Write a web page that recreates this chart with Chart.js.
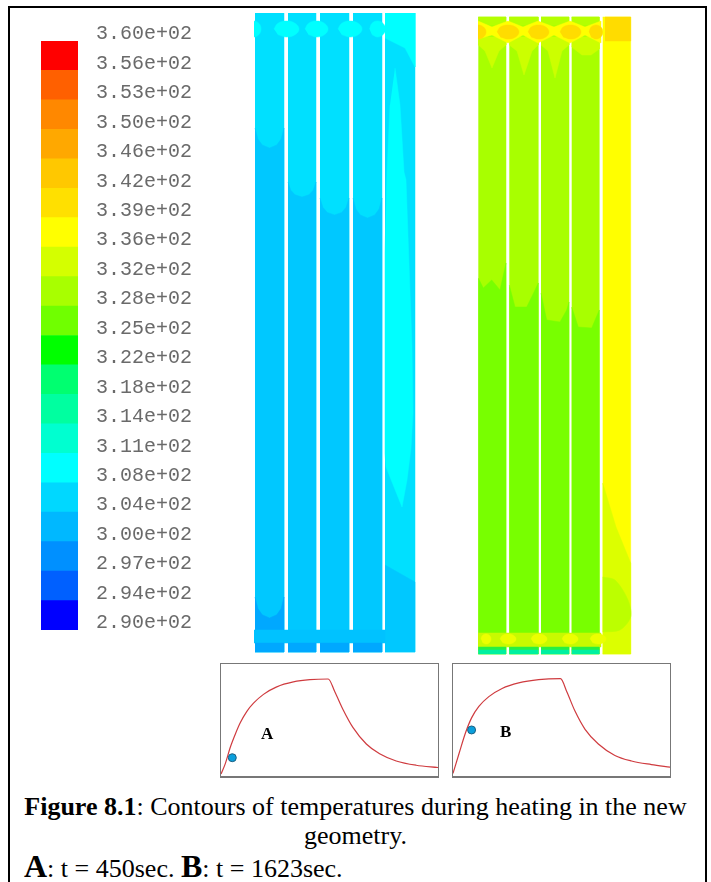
<!DOCTYPE html>
<html>
<head>
<meta charset="utf-8">
<title>Figure 8.1</title>
<script src="https://cdn.jsdelivr.net/npm/chart.js@4/dist/chart.umd.min.js"></script>
<style>
body { margin: 0; background: #fff; width: 711px; height: 882px; overflow: hidden; position: relative; }
canvas { position: absolute; }
#frame { position: absolute; left: 8px; top: 6px; width: 695px; height: 900px; border: 2px solid #000; }
.contour { filter: blur(0.6px); }
.inset { position: absolute; border: 1px solid #777; border-bottom: 2px solid #777; box-sizing: border-box; }
.tag { position: absolute; font: bold 17px "Liberation Serif"; color: #000; }
.cap { position: absolute; font: 26px/29px "Liberation Serif"; color: #000; white-space: nowrap; }
.cap b.big { font-size: 32px; }
</style>
</head>
<body>
<div id="frame"></div>
<canvas id="legend" width="240" height="660" style="left:0;top:0"></canvas>
<canvas id="panelA" class="contour" width="162" height="640" style="left:254px;top:13px"></canvas>
<canvas id="panelB" class="contour" width="154" height="640" style="left:478px;top:15px"></canvas>
<div class="inset" style="left:220px;top:663px;width:219px;height:115px"><canvas id="curveA" width="217" height="112"></canvas></div>
<div class="inset" style="left:452px;top:663px;width:219px;height:115px"><canvas id="curveB" width="217" height="112"></canvas></div>
<div class="tag" style="left:261px;top:724px">A</div>
<div class="tag" style="left:500px;top:722px">B</div>
<div class="cap" style="left:0;width:711px;text-align:center;top:792px;line-height:29px"><b>Figure 8.1</b>: Contours of temperatures during heating in the new<br>geometry.</div>
<div class="cap" style="left:24px;top:852px"><b class="big">A</b>: t = 450sec. <b class="big">B</b>: t = 1623sec.</div>
<script>
// colour bar, top to bottom
const tempLabels = ['3.60e+02', '3.56e+02', '3.53e+02', '3.50e+02', '3.46e+02', '3.42e+02', '3.39e+02',
     '3.36e+02', '3.32e+02', '3.28e+02', '3.25e+02', '3.22e+02', '3.18e+02', '3.14e+02', '3.11e+02',
     '3.08e+02', '3.04e+02', '3.00e+02', '2.97e+02', '2.94e+02', '2.90e+02'];
const bandColors = ['#ff0000', '#ff6000', '#ff8800', '#ffa800', '#ffc800', '#ffe000', '#ffff00', '#d4ff00',
     '#a8ff00', '#70ff00', '#00ff00', '#00ff70', '#00ffa0', '#00ffd0', '#00ffff', '#00d8ff',
     '#00b8ff', '#0090ff', '#0060ff', '#0000ff'];

// heating curves (time, temperature in plot units)
const timeA = [0, 13, 28, 43, 58, 78, 98, 128, 168, 218, 268, 323, 343, 368, 398, 438, 478, 528, 588, 654];
const tempA = [6, 38, 88, 128, 163, 198, 223, 250, 273, 288, 295, 297, 258, 203, 148, 98, 68, 46, 33, 26];
const markerA = [{ x: 34, y: 56 }];
const timeB = [0, 18, 38, 56, 78, 108, 148, 198, 258, 324, 343, 368, 398, 438, 488, 538, 598, 655];
const tempB = [8, 68, 133, 178, 213, 243, 268, 285, 295, 298, 258, 198, 143, 98, 63, 46, 35, 27];
const markerB = [{ x: 56, y: 141 }];

// contour panel A, channel walls and contour heights
const wallsA = [[1, 30], [34, 62], [66, 95], [99, 128], [131, 161]];
const lobeX = [1, 0.9, 0.75, 0.5, 0.25, 0.1, 0];
const lobeDepth = [0, 0.55, 0.85, 1, 0.85, 0.55, 0];
const lobeEdgeA = [525, 471, 455, 455];
const lobeBottomA = [505, 456, 438, 435];
const holesA = [[0, 7], [32.5, 12.5], [62.5, 11.5], [96, 12], [123.5, 8]];
const plumeA = [[141, 585], [146, 548], [150, 481], [152, 473], [158, 306], [159, 240], [157, 205], [153, 173],
     [148, 146], [132, 186], [131, 200], [131, 400], [133, 481], [136, 548]];
const capA = [[131, 640], [161, 640], [161, 586], [151, 605], [131, 615]];
const lowerA = [[131, 1], [161, 1], [161, 71], [131, 88]];

// contour panel B
const wallsB = [[0.3, 28], [31.3, 60.3], [63, 91], [93.7, 121.3], [124.7, 152.7]];
const frontB = [
     [[0.3, 377], [5.3, 367], [13.7, 375], [22, 365], [28, 392]],
     [[31.3, 370], [37, 348], [48.7, 348], [57, 365], [60.3, 372]],
     [[63, 362], [68.7, 335], [82, 333], [88.7, 345], [91, 353]],
     [[93.7, 348], [100.3, 328], [113.7, 327], [121.3, 345]]
];
const spikesB = [
     [[0.3, 618], [28, 618], [28, 610], [21, 604], [14, 587], [7, 604], [0.3, 610]],
     [[31.3, 618], [60.3, 618], [60.3, 610], [54, 604], [46, 580], [39, 604], [31.3, 610]],
     [[63, 618], [91, 618], [91, 610], [84, 604], [77, 577], [70, 604], [63, 610]],
     [[93.7, 618], [121.3, 618], [121.3, 606], [113, 600], [104, 600], [93.7, 608]]
];
const starB = [[0, 616], [14, 620], [30, 612], [45, 620], [60, 612], [76, 620], [92, 612], [107, 620], [123, 612],
     [123, 634], [107, 628], [92, 634], [76, 628], [60, 634], [45, 628], [30, 634], [14, 628], [0, 634]];
const holesB = [[0, 8], [30, 11], [60.5, 10.5], [92.5, 10.5], [118, 7]];
const jointsB = [[30, 8], [61, 8], [92, 8], [120, 8], [8, 5]];
const fadeB = [[124.7, 1], [152.7, 1], [152.7, 92], [138, 128], [124.7, 172]];
const innerB = [[124.7, 78], [137, 75], [150, 55], [152.7, 38], [142, 25], [124.7, 23]];

const ellipseShape = [[-1, 0], [-0.7, 0.7], [0, 1], [0.7, 0.7], [1, 0], [0.7, -0.7], [0, -1], [-0.7, -0.7]];

function rect(x0, x1, y0, y1) {
     return [[x0, y0], [x1, y0], [x1, y1], [x0, y1]];
}
function ellipse(cx, rx, cy, ry) {
     return ellipseShape.map(p => [cx + p[0] * rx, cy + p[1] * ry]);
}
// channel block whose top edge dips in the middle
function lobed(wall, bottom, edge, depth) {
     let pts = [[wall[0], bottom], [wall[1], bottom]];
     lobeX.forEach(function (f, i) {
          pts.push([wall[0] + (wall[1] - wall[0]) * f, edge - depth * lobeDepth[i]]);
     });
     return pts;
}

function shape(pts, color, tension) {
     return {
          data: pts.map(p => ({ x: p[0], y: p[1] })),
          showLine: true,
          fill: 'shape',
          backgroundColor: color,
          borderColor: color,
          borderWidth: 0.5,
          pointRadius: 0,
          tension: tension || 0
     };
}

function contourChart(id, maxX, layers) {
     // chart.js paints the first dataset last
     new Chart(id, {
          type: 'scatter',
          data: { datasets: layers.slice().reverse() },
          options: {
               responsive: false,
               animation: false,
               layout: { padding: 0, autoPadding: false },
               plugins: { legend: { display: false }, tooltip: { enabled: false } },
               scales: {
                    x: { type: 'linear', display: false, min: 0, max: maxX },
                    y: { type: 'linear', display: false, min: 0, max: 640 }
               }
          }
     });
}

function curveChart(id, times, temps, marker) {
     new Chart(id, {
          type: 'scatter',
          data: {
               datasets: [{
                    data: marker,
                    pointRadius: 4,
                    backgroundColor: '#0b9fdc',
                    borderColor: '#1d5f80',
                    borderWidth: 1
               }, {
                    data: times.map((t, i) => ({ x: t, y: temps[i] })),
                    showLine: true,
                    cubicInterpolationMode: 'monotone',
                    borderColor: '#cf3b3f',
                    borderWidth: 1.2,
                    pointRadius: 0
               }]
          },
          options: {
               responsive: false,
               animation: false,
               layout: { padding: 0, autoPadding: false },
               plugins: { legend: { display: false }, tooltip: { enabled: false } },
               scales: {
                    x: { type: 'linear', display: false, min: 0, max: 654 },
                    y: { type: 'linear', display: false, min: 0, max: 343 }
               }
          }
     });
}

function legendChart() {
     let datasets = bandColors.slice().reverse().map(function (c) {
          return { data: [1], backgroundColor: c, borderWidth: 0, barPercentage: 1, categoryPercentage: 1 };
     });
     new Chart('legend', {
          type: 'bar',
          data: { labels: ['T'], datasets: datasets },
          options: {
               responsive: false,
               animation: false,
               layout: { padding: { left: 41, top: 41, bottom: 0 }, autoPadding: false },
               plugins: { legend: { display: false }, tooltip: { enabled: false } },
               scales: {
                    x: { display: false, stacked: true },
                    y: {
                         stacked: true,
                         position: 'right',
                         min: 0,
                         max: 20,
                         afterFit: function (axis) { axis.width = 162; },
                         afterBuildTicks: function (axis) {
                              axis.ticks = tempLabels.map((l, i) => ({ value: i }));
                         },
                         border: { display: false },
                         grid: { display: false, drawTicks: false },
                         ticks: {
                              autoSkip: false,
                              padding: 18,
                              labelOffset: -7,
                              color: '#6a6a6a',
                              font: { family: 'Liberation Mono', size: 20 },
                              callback: function (v) { return tempLabels[20 - v]; }
                         }
                    }
               }
          }
     });
}

let layersA = [];
wallsA.forEach(w => layersA.push(shape(rect(w[0], w[1], 1, 640), '#00e0ff')));
wallsA.slice(0, 4).forEach(function (w, i) {
     layersA.push(shape(lobed(w, 1, lobeEdgeA[i], lobeEdgeA[i] - lobeBottomA[i]), '#00c8ff'));
});
layersA.push(shape(lobed(wallsA[0], 23, 56, 21), '#00a8ff'));
layersA.push(shape(capA, '#00ffff'));
layersA.push(shape(plumeA, '#00ffff'));
layersA.push(shape(lowerA, '#00c8ff'));
holesA.forEach(h => layersA.push(shape(ellipse(h[0], h[1], 624, 8), '#00ffff', 0.4)));
layersA.push(shape(rect(0, 131, 10, 23), '#00c2ff'));
wallsA.slice(0, 4).forEach(w => layersA.push(shape(rect(w[0], w[1], 1, 10), '#00a8ff')));

let layersB = [];
wallsB.slice(0, 4).forEach(function (w, i) {
     layersB.push(shape(rect(w[0], w[1], 1, 638), '#a8ff00'));
     let front = frontB[i].slice().reverse();
     layersB.push(shape([[w[0], 1], [w[1], 1]].concat(front), '#78ff00'));
     layersB.push(shape(spikesB[i], '#ccff00'));
     layersB.push(shape(rect(w[0], w[1], 630, 638), '#b4ff00'));
});
layersB.push(shape(starB, '#ffff00'));
holesB.forEach(h => layersB.push(shape(ellipse(h[0], h[1], 623, 7), '#ffdc00', 0.4)));
layersB.push(shape(rect(wallsB[4][0], wallsB[4][1], 1, 638), '#ffff00'));
layersB.push(shape(rect(127, wallsB[4][1], 614, 638), '#ffdc00'));
layersB.push(shape(fadeB, '#dcff00'));
layersB.push(shape(innerB, '#bcff00', 0.3));
layersB.push(shape(rect(0, 123, 8, 22), '#c8fa00'));
jointsB.forEach(j => layersB.push(shape(ellipse(j[0], j[1], 16, 5), '#ecff00', 0.4)));
wallsB.slice(0, 4).forEach(function (w) {
     layersB.push(shape(rect(w[0], w[1], 5, 8), '#28f040'));
     layersB.push(shape(rect(w[0], w[1], 1, 5), '#00f0a0'));
});

legendChart();
contourChart('panelA', 162, layersA);
contourChart('panelB', 154, layersB);
curveChart('curveA', timeA, tempA, markerA);
curveChart('curveB', timeB, tempB, markerB);
</script>
</body>
</html>
